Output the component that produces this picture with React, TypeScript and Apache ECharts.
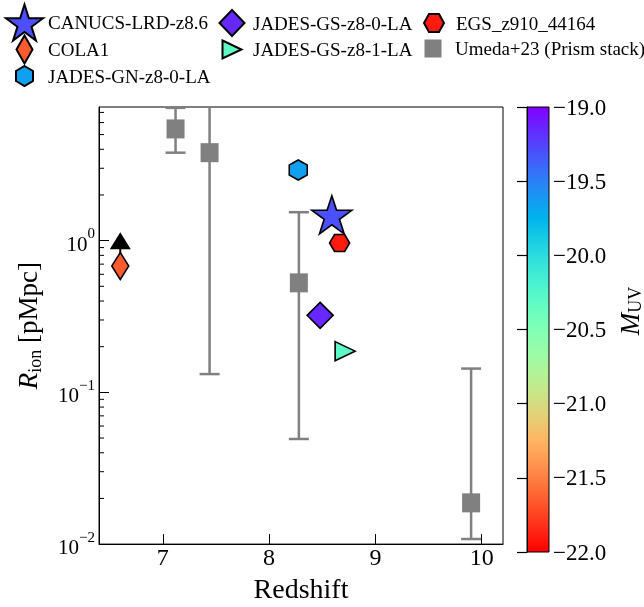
import React, { useEffect, useRef } from 'react';
import * as echarts from 'echarts';

// ---------------- data ----------------
const xTicks = [7, 8, 9, 10];
const yTicks = [0.01, 0.1, 1];
const yMinorTicks = [0.02, 0.03, 0.04, 0.05, 0.06, 0.07, 0.08, 0.09, 0.2, 0.3, 0.4, 0.5, 0.6, 0.7, 0.8, 0.9, 2, 3, 4, 5, 6, 7];

const umedaName = 'Umeda+23 (Prism stack)';
const umedaZ = [7.12, 7.44, 8.28, 9.9];
const umedaR = [5.45, 3.8, 0.527, 0.0187];
const umedaLo = [3.8, 0.132, 0.0493, 0.0108];
const umedaHi = [7.5, 30, 1.54, 0.1435];

const galaxyNames = ['CANUCS-LRD-z8.6', 'COLA1', 'JADES-GN-z8-0-LA', 'JADES-GS-z8-0-LA', 'JADES-GS-z8-1-LA', 'EGS_z910_44164'];
const galaxyZ = [8.59, 6.6, 8.274, 8.48, 8.715, 8.663];
const galaxyR = [1.48, 0.68, 2.92, 0.322, 0.187, 0.965];
const galaxyMuv = [-19.3, -21.65, -19.65, -19.15, -20.3, -21.9];
const cola1LimitR = 1.0;

const muvMin = -22;
const muvMax = -19;

// ---------------- styling helpers ----------------
const FONT = '"Liberation Serif", "Times New Roman", serif';
const GRAY = '#808080';

function rainbow(m: number) {
  const s = Math.min(1, Math.max(0, (muvMax - m) / (muvMax - muvMin)));
  const r = Math.min(1, Math.abs(2 * s - 0.5));
  const g = Math.sin(Math.PI * s);
  const b = Math.cos((Math.PI * s) / 2);
  return `rgb(${Math.round(r * 255)},${Math.round(g * 255)},${Math.round(b * 255)})`;
}

type Pt = [number, number];
const SHAPES: Record<string, Pt[]> = {
  star: [[0, -1], [0.2245, -0.309], [0.9511, -0.309], [0.3633, 0.118], [0.5878, 0.809], [0, 0.382], [-0.5878, 0.809], [-0.3633, 0.118], [-0.9511, -0.309], [-0.2245, -0.309]],
  diamond: [[0, -1], [1, 0], [0, 1], [-1, 0]],
  hexPointy: [[0, -1], [0.866, -0.5], [0.866, 0.5], [0, 1], [-0.866, 0.5], [-0.866, -0.5]],
  hexFlat: [[-1, 0], [-0.5, -0.866], [0.5, -0.866], [1, 0], [0.5, 0.866], [-0.5, 0.866]],
  triRight: [[-1, -1], [1, 0], [-1, 1]],
  square: [[-1, -1], [1, -1], [1, 1], [-1, 1]],
};

function polyD(pts: Pt[], w: number, h: number, cx: number, cy: number) {
  const xs = pts.map((p) => p[0]);
  const ys = pts.map((p) => p[1]);
  const x0 = Math.min(...xs), x1 = Math.max(...xs), y0 = Math.min(...ys), y1 = Math.max(...ys);
  const mp = pts.map((p) => [cx + ((p[0] - x0) / (x1 - x0) - 0.5) * w, cy + ((p[1] - y0) / (y1 - y0) - 0.5) * h]);
  return mp.map((p, i) => `${i === 0 ? 'M' : 'L'}${p[0].toFixed(2)},${p[1].toFixed(2)}`).join(' ') + ' Z';
}
function symbolPath(shape: string) {
  return 'path://' + polyD(SHAPES[shape], 100, 100, 50, 50);
}
function legendIcon(shape: string, w: number, h: number, box: number, dy = 0) {
  return `path://M0,0 M${box},${box} ` + polyD(SHAPES[shape], w, h, box / 2, box / 2 + dy);
}

const galaxyShape = ['star', 'diamond', 'hexPointy', 'diamond', 'triRight', 'hexFlat'];
const galaxySize: Pt[] = [[40, 38], [17, 27], [18, 20], [26, 26], [20, 19], [20, 17]];
const legendIconSize: Pt[] = [[38, 37], [16, 28], [17, 20], [25, 26], [19, 18], [20, 18]];
// legend layout: [left, rowCenter, box]
const legendPos: [number, number, number][] = [
  [5, 22, 37], [5, 48.5, 37], [5, 75, 37], [215, 22, 32], [215, 48.5, 32], [416, 22, 34],
];
const umedaLegendPos: [number, number, number] = [416, 48.5, 34];

export default function App() {
  const ref = useRef<HTMLDivElement>(null);
  useEffect(() => {
    if (!ref.current) return;
    const chart = echarts.init(ref.current, undefined, { renderer: 'svg' });

    const stops = [];
    for (let i = 0; i <= 20; i++) {
      const t = i / 20;
      stops.push({ offset: t, color: rainbow(muvMax - t * (muvMax - muvMin)) });
    }
    const gradient = new echarts.graphic.LinearGradient(0, 0, 0, 1, stops);

    const galaxySeries = galaxyNames.map((name, i) => ({
      type: 'scatter',
      name,
      xAxisIndex: 0,
      yAxisIndex: 0,
      symbol: symbolPath(galaxyShape[i]),
      symbolSize: galaxySize[i],
      itemStyle: { color: rainbow(galaxyMuv[i]), borderColor: '#000', borderWidth: 1.6, opacity: 1 },
      data: [[galaxyZ[i], galaxyR[i]]],
      z: 5,
    }));

    const legends = galaxyNames.map((name, i) => {
      const [left, rc, box] = legendPos[i];
      return {
        left,
        top: rc - box / 2,
        padding: 0,
        itemWidth: box,
        itemHeight: box,
        selectedMode: false,
        textStyle: { fontFamily: FONT, fontSize: 19, color: '#000' },
        data: [{ name, icon: legendIcon(galaxyShape[i], legendIconSize[i][0], legendIconSize[i][1], box) }],
      };
    });
    legends.push({
      left: umedaLegendPos[0],
      top: umedaLegendPos[1] - umedaLegendPos[2] / 2,
      padding: 0,
      itemWidth: umedaLegendPos[2],
      itemHeight: umedaLegendPos[2],
      selectedMode: false,
      textStyle: { fontFamily: FONT, fontSize: 19, color: '#000' },
      data: [{ name: umedaName, icon: legendIcon('square', 17, 18, umedaLegendPos[2]) }],
    });

    const option: any = {
      animation: false,
      textStyle: { fontFamily: FONT, color: '#000' },
      legend: legends,
      grid: [
        { left: 99, top: 107, width: 404, height: 445, show: true, borderColor: '#000', borderWidth: 1, backgroundColor: 'transparent' },
        { left: 527, top: 107, width: 22, height: 445, show: true, borderColor: '#000', borderWidth: 1, backgroundColor: gradient },
      ],
      xAxis: [
        {
          gridIndex: 0,
          type: 'value',
          min: 6.4,
          max: 10.2,
          name: 'Redshift',
          nameLocation: 'middle',
          nameGap: 28,
          nameTextStyle: { fontFamily: FONT, fontSize: 28, color: '#000' },
          axisLine: { show: true, onZero: false, lineStyle: { color: '#000', width: 1 } },
          axisTick: { show: true, inside: true, length: 10, customValues: xTicks, lineStyle: { color: '#000', width: 1 } },
          axisLabel: { customValues: xTicks, fontFamily: FONT, fontSize: 24, color: '#000', margin: 1 },
          splitLine: { show: false },
        },
        { gridIndex: 1, type: 'value', min: 0, max: 1, show: false },
      ],
      yAxis: [
        {
          gridIndex: 0,
          type: 'log',
          logBase: 10,
          min: 0.01,
          max: 7.6,
          name: '{r|R}{i|ion}{n| [pMpc]}',
          nameLocation: 'middle',
          nameGap: 56,
          nameTextStyle: {
            color: '#000',
            rich: {
              r: { fontFamily: FONT, fontSize: 27, fontStyle: 'italic', lineHeight: 30, color: '#000' },
              i: { fontFamily: FONT, fontSize: 18, lineHeight: 18, padding: [14, 0, 0, 0], color: '#000' },
              n: { fontFamily: FONT, fontSize: 27, lineHeight: 30, color: '#000' },
            },
          },
          axisLine: { show: true, onZero: false, lineStyle: { color: '#000', width: 1 } },
          axisTick: { show: true, inside: true, length: 10, customValues: yTicks, lineStyle: { color: '#000', width: 1 } },
          axisLabel: {
            customValues: yTicks,
            margin: 4,
            formatter: (v: number) => {
              const e = Math.round(Math.log10(v));
              return `{b|10}{s|${e < 0 ? '\u2212' + -e : e}}`;
            },
            rich: {
              b: { fontFamily: FONT, fontSize: 21, lineHeight: 30, padding: [6, 0, 0, 0], color: '#000' },
              s: { fontFamily: FONT, fontSize: 15, lineHeight: 15, padding: [3, 0, 18, 0], color: '#000' },
            },
          },
          splitLine: { show: false },
          minorTick: { show: false },
        },
        {
          gridIndex: 1,
          type: 'value',
          min: muvMin,
          max: muvMax,
          interval: 0.5,
          position: 'right',
          axisLine: { show: true, lineStyle: { color: '#000', width: 1 } },
          axisTick: { show: true, inside: true, length: 10, lineStyle: { color: '#000', width: 1.2 } },
          axisLabel: {
            margin: 4,
            fontFamily: FONT,
            fontSize: 23,
            color: '#000',
            formatter: (v: number) => (v < 0 ? '\u2212' : '') + Math.abs(v).toFixed(1),
          },
          splitLine: { show: false },
        },
      ],
      graphic: [
        {
          type: 'text',
          x: 630,
          y: 311,
          rotation: Math.PI / 2,
          style: {
            text: '{m|M}{u|UV}',
            align: 'center',
            verticalAlign: 'middle',
            rich: {
              m: { fontFamily: FONT, fontSize: 27, fontStyle: 'italic', lineHeight: 28, fill: '#000', color: '#000' },
              u: { fontFamily: FONT, fontSize: 18, lineHeight: 18, padding: [10, 0, 0, 0], fill: '#000', color: '#000' },
            },
          },
        },
      ],
      series: [
        {
          type: 'custom',
          name: 'minorTicks',
          xAxisIndex: 0,
          yAxisIndex: 0,
          silent: true,
          data: yMinorTicks.map((v) => [6.4, v]),
          renderItem: (params: any, api: any) => {
            const p = api.coord([api.value(0), api.value(1)]);
            return {
              type: 'line',
              shape: { x1: p[0], y1: p[1], x2: p[0] + 5, y2: p[1] },
              style: { stroke: '#000', lineWidth: 1 },
            };
          },
          z: 3,
        },
        {
          type: 'custom',
          name: 'umedaErr',
          xAxisIndex: 0,
          yAxisIndex: 0,
          silent: true,
          clip: true,
          data: umedaZ.map((z, i) => [z, umedaLo[i], umedaHi[i]]),
          renderItem: (params: any, api: any) => {
            const x = api.value(0);
            const pLo = api.coord([x, api.value(1)]);
            const pHi = api.coord([x, api.value(2)]);
            const cap = 10;
            const st = { stroke: GRAY, lineWidth: 2.5 };
            return {
              type: 'group',
              children: [
                { type: 'line', shape: { x1: pLo[0], y1: pLo[1], x2: pHi[0], y2: pHi[1] }, style: st },
                { type: 'line', shape: { x1: pLo[0] - cap, y1: pLo[1], x2: pLo[0] + cap, y2: pLo[1] }, style: st },
                { type: 'line', shape: { x1: pHi[0] - cap, y1: pHi[1], x2: pHi[0] + cap, y2: pHi[1] }, style: st },
              ],
            };
          },
          z: 2,
        },
        {
          type: 'scatter',
          name: umedaName,
          xAxisIndex: 0,
          yAxisIndex: 0,
          symbol: symbolPath('square'),
          symbolSize: [18, 19],
          itemStyle: { color: GRAY, opacity: 1 },
          data: umedaZ.map((z, i) => [z, umedaR[i]]),
          z: 3,
        },
        {
          type: 'line',
          name: 'cola1Limit',
          xAxisIndex: 0,
          yAxisIndex: 0,
          silent: true,
          symbol: 'none',
          lineStyle: { color: '#000', width: 2 },
          data: [[galaxyZ[1], galaxyR[1]], [galaxyZ[1], cola1LimitR]],
          z: 3,
        },
        {
          type: 'scatter',
          name: 'cola1Arrow',
          xAxisIndex: 0,
          yAxisIndex: 0,
          silent: true,
          symbol: 'triangle',
          symbolSize: [21, 17],
          itemStyle: { color: '#000', opacity: 1 },
          data: [[galaxyZ[1], cola1LimitR]],
          z: 4,
        },
        ...galaxySeries,
      ],
    };

    chart.setOption(option);
    return () => chart.dispose();
  }, []);

  return <div ref={ref} style={{ position: 'fixed', left: 0, top: 0, width: 644, height: 607 }} />;
}
